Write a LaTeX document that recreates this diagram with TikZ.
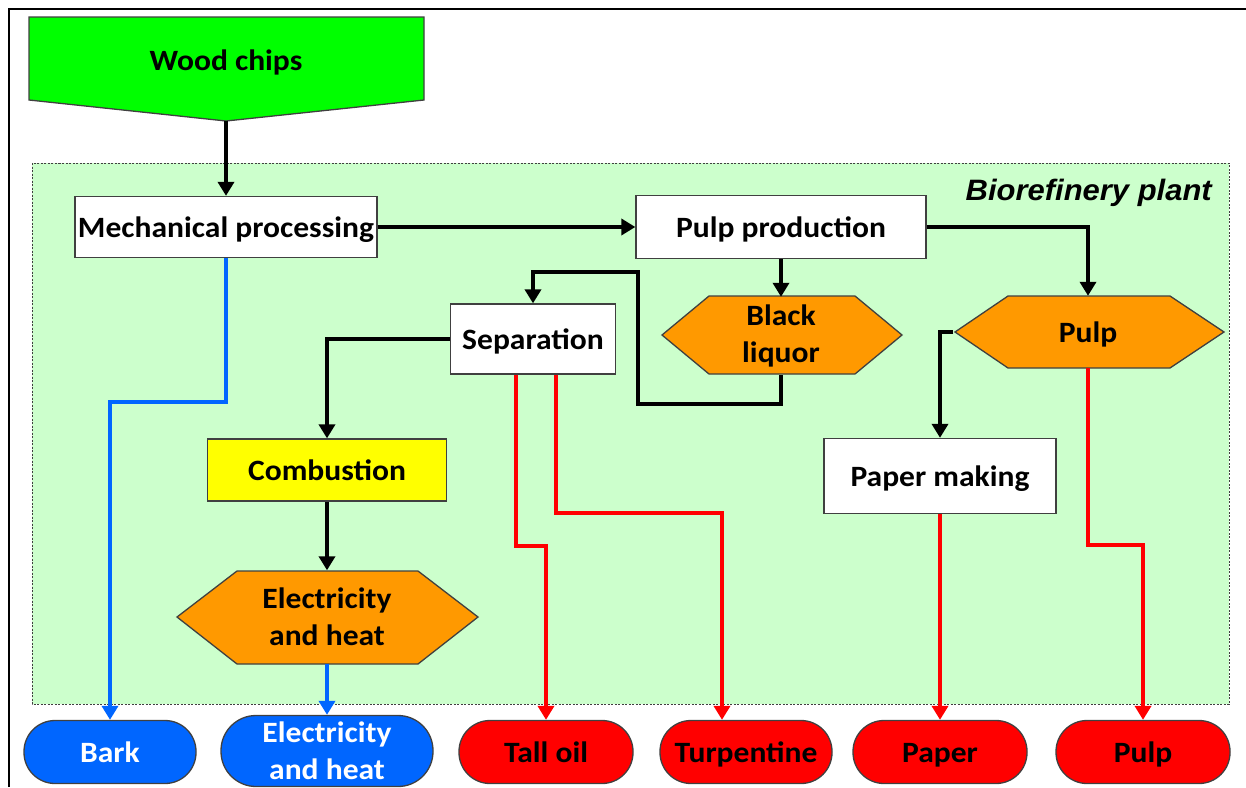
\documentclass[tikz,border=0pt]{standalone}
\usepackage{fontspec}
\setmainfont{Carlito}[FakeStretch=1.07]
\newfontfamily\labelfont{Liberation Sans}[FakeStretch=1.05]
\usetikzlibrary{arrows.meta}
\definecolor{wgreen}{HTML}{00FF00}
\definecolor{lgreen}{HTML}{CCFFCC}
\definecolor{orng}{HTML}{FF9900}
\definecolor{yel}{HTML}{FFFF00}
\definecolor{blu}{HTML}{0066FF}
\definecolor{rd}{HTML}{FF0000}
\definecolor{edge}{HTML}{404040}
\begin{document}
\begin{tikzpicture}[x=1pt,y=-1pt,
  txt/.style={font=\fontsize{29.5}{37}\selectfont\bfseries, align=center, inner sep=0pt},
  one/.style={text height=23pt, text depth=3pt},
  box/.style={txt, one, draw=edge, line width=1.3pt, fill=white},
  hexlbl/.style={txt},
  hexshape/.style={draw=edge, line width=1.3pt, fill=orng},
  pill/.style={txt, draw=edge, line width=1.3pt, rounded corners=31pt, minimum height=63},
  arr/.style={line width=4.2pt, -{Triangle[width=16pt,length=14pt]}},
  blk/.style={arr, draw=black},
  bluarr/.style={arr, draw=blu},
  redarr/.style={arr, draw=rd},
]
\useasboundingbox (0,0) rectangle (1246,787);
\fill[white] (0,0) rectangle (1246,787);
% outer frame
\draw[line width=2.5pt] (9,787) -- (9,9) -- (1246,9);
% plant area
\draw[draw=edge, fill=lgreen, line width=1pt, dash pattern=on 2pt off 1.5pt] (32,163) rectangle (1229,704);
\node[inner sep=0pt, anchor=base east, font=\labelfont\fontsize{29.5}{32}\selectfont\bfseries\itshape] (plant) at (1212,200) {Biorefinery plant};
% wood chips
\draw[draw=edge, fill=wgreen, line width=1.3pt] (29,17) -- (424,17) -- (424,100) -- (226,121) -- (29,100) -- cycle;
\node[txt, one, minimum width=395, minimum height=104] (wood) at (226,69) {\raisebox{9pt}{Wood chips}};
% boxes
\node[box, minimum width=302, minimum height=61] (mech) at (226,227) {Mechanical processing};
\node[box, minimum width=290, minimum height=63] (pp) at (781,227) {Pulp production};
\node[box, minimum width=165, minimum height=70] (sep) at (533,339) {Separation};
\node[box, fill=yel, minimum width=239, minimum height=62] (comb) at (327,470) {Combustion};
\node[box, minimum width=232, minimum height=75] (pm) at (940,476) {Paper making};
% hexagons
\draw[hexshape] (662,335) -- (709,296) -- (855,296) -- (902,335) -- (855,374) -- (709,374) -- cycle;
\node[hexlbl, minimum width=240, minimum height=78] (bl) at (781,336) {Black\\liquor};
\draw[hexshape] (955,332) -- (1008,296) -- (1170,296) -- (1224,332) -- (1170,368) -- (1008,368) -- cycle;
\node[hexlbl, one, minimum width=269, minimum height=72] (ph) at (1088,332) {Pulp};
\draw[hexshape] (177,617) -- (237,571) -- (418,571) -- (478,617) -- (418,664) -- (237,664) -- cycle;
\node[hexlbl, minimum width=301, minimum height=93] (eh) at (327,617) {Electricity\\and heat};
% output pills
\node[pill, one, fill=blu, text=white, minimum width=172] (bark) at (110,752) {Bark};
\node[pill, fill=blu, text=white, minimum width=212, minimum height=71, rounded corners=35pt] (eho) at (327,751) {Electricity\\and heat};
\node[pill, one, fill=rd, minimum width=174] (tall) at (546,752) {Tall oil};
\node[pill, one, fill=rd, minimum width=172] (turp) at (746,752) {Turpentine};
\node[pill, one, fill=rd, minimum width=174] (paper) at (940,752) {Paper};
\node[pill, one, fill=rd, minimum width=174] (pulp) at (1143,752) {Pulp};
% connectors
\draw[blk] (wood.south) -- (mech.north);
\draw[blk] (mech.east) -- (pp.west);
\draw[blk] (pp.east) -| (ph.north);
\draw[blk] (pp.south) -- (bl.north);
\draw[blk] (bl.south) -- (781,404) -- (638,404) -- (638,272) -- (533,272) -- (sep.north);
\draw[blk] (sep.west) -| (comb.north);
\draw[blk] (comb.south) -- (eh.north);
\draw[blk] (ph.west) -| (pm.north);
\draw[bluarr] (eh.south) -- (eho.north);
\draw[bluarr] (mech.south) -- (226,402) -| (bark.north);
\draw[redarr] (sep.south -| 516,0) -- (516,546) -| (tall.north);
\draw[redarr] (sep.south -| 556,0) -- (556,513) -- (722,513) -- (turp.north -| 722,0);
\draw[redarr] (pm.south) -- (paper.north);
\draw[redarr] (ph.south) -- (1088,545) -| (pulp.north);
\end{tikzpicture}
\end{document}
